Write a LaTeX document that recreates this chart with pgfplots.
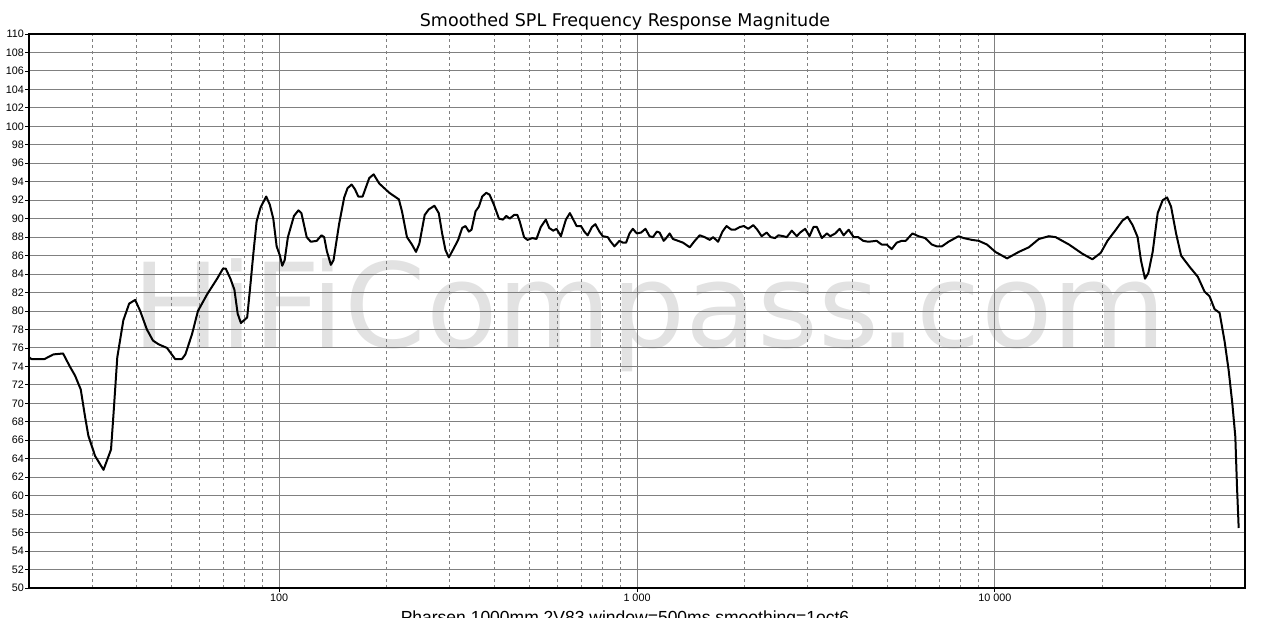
\documentclass[border=0pt]{standalone}
\usepackage{pgfplots}
\pgfplotsset{compat=1.18}
\usepackage{fontspec}
\setmainfont{Liberation Sans}
\newfontfamily\dejavu{DejaVu Sans}
\definecolor{gridgray}{RGB}{128,128,128}
\definecolor{wmgray}{RGB}{226,226,226}
\begin{document}
\begin{tikzpicture}
\begin{axis}[
  set layers,
  scale only axis, width=1216pt, height=554pt,
  xmode=log, xmin=20, xmax=50000, ymin=50, ymax=110,
  xtick={100,1000,10000}, xticklabels={100,1 000,10 000},
  minor xtick={20,30,40,50,60,70,80,90,200,300,400,500,600,700,800,900,2000,3000,4000,5000,6000,7000,8000,9000,20000,30000,40000},
  ytick={50,52,...,110},
  xmajorgrids, ymajorgrids, xminorgrids,
  major grid style={gridgray, line width=0.9pt},
  minor grid style={gridgray, line width=0.8pt, dash pattern=on 3pt off 3pt},
  axis line style={black, line width=1.1pt},
  tick style={black, line width=0.8pt},
  major tick length=4pt, minor tick length=0pt, tick align=outside,
  xtick pos=left, ytick pos=left,
  ticklabel style={font=\fontsize{10.8}{12}\selectfont},
  yticklabel style={inner sep=1pt},
  xticklabel style={inner sep=2pt},
  /pgf/number format/assume math mode=true,
  clip mode=individual,
]
\begin{pgfonlayer}{axis background}
\node[anchor=base, text=wmgray, font=\dejavu\fontsize{117}{120}\selectfont, inner sep=0pt] at (axis cs:1084,76) {HiFiCompass.com};
\end{pgfonlayer}
\addplot[black, line width=2pt, line join=round] table {
20.0 75.0
20.3 74.8
22.1 74.8
23.4 75.3
24.9 75.4
26.0 74.0
26.9 73.0
27.9 71.5
28.7 68.5
29.3 66.5
30.6 64.3
32.3 62.8
33.9 65.0
34.4 68.5
35.3 75.0
36.7 79.0
38.1 80.8
39.6 81.2
40.9 80.0
42.7 78.0
44.4 76.8
46.0 76.4
48.6 76.0
51.2 74.8
53.5 74.8
54.7 75.3
57.1 77.5
59.3 80.0
62.9 81.8
67.1 83.5
69.7 84.6
70.9 84.6
73.1 83.5
75.0 82.3
76.6 79.7
78.2 78.7
81.4 79.3
83.2 83.0
84.6 86.0
86.5 89.7
88.7 91.2
92.0 92.4
94.2 91.5
96.3 90.0
98.4 87.0
100.5 86.0
102.0 84.9
103.6 85.5
105.8 88.0
110.0 90.3
113.2 90.9
115.4 90.6
119.4 88.0
122.6 87.5
127.4 87.6
131.3 88.2
133.6 88.0
135.9 86.5
139.5 85.0
141.9 85.5
147.2 89.5
152.0 92.3
155.3 93.3
159.4 93.7
162.8 93.2
166.4 92.4
171.1 92.4
174.8 93.4
178.6 94.4
183.7 94.8
190.5 93.8
203.2 92.8
212.2 92.3
216.0 92.1
220.4 90.8
227.6 88.0
235.0 87.2
241.2 86.4
246.5 87.3
255.1 90.4
261.8 91.0
271.6 91.4
279.3 90.6
285.4 88.4
291.6 86.6
298.0 85.8
307.7 86.8
316.4 87.7
324.7 89.0
331.7 89.2
339.0 88.6
344.8 88.8
353.9 90.8
361.5 91.3
369.4 92.4
379.1 92.8
387.3 92.6
398.4 91.5
411.4 90.0
422.2 89.9
431.4 90.3
440.8 90.0
453.3 90.4
463.1 90.4
470.2 89.7
483.5 88.0
494.0 87.7
510.2 87.9
523.6 87.8
538.5 89.1
556.2 89.9
568.3 89.0
583.2 88.7
595.8 88.9
612.8 88.1
632.9 89.9
649.4 90.6
663.6 89.9
678.0 89.2
697.3 89.2
712.4 88.6
728.0 88.2
748.6 89.1
765.0 89.4
785.0 88.6
802.2 88.1
828.5 88.0
841.0 87.6
865.0 87.0
893.3 87.6
912.9 87.4
932.2 87.4
952.8 88.4
973.4 88.9
998.8 88.4
1027 88.5
1056 88.9
1084 88.1
1108 88.0
1136 88.6
1156 88.5
1187 87.6
1207 87.9
1234 88.4
1260 87.8
1302 87.6
1345 87.4
1404 86.9
1450 87.6
1497 88.2
1546 88.0
1597 87.7
1632 88.0
1685 87.5
1733 88.6
1779 89.2
1837 88.8
1877 88.8
1939 89.1
1990 89.2
2046 88.9
2113 89.3
2169 88.8
2230 88.1
2303 88.5
2363 88.0
2431 87.9
2484 88.2
2565 88.1
2621 88.0
2707 88.7
2796 88.1
2857 88.5
2951 88.9
3034 88.1
3113 89.1
3181 89.1
3285 87.9
3393 88.4
3467 88.1
3581 88.4
3683 88.9
3779 88.2
3903 88.8
4031 88.0
4150 88.0
4287 87.6
4428 87.5
4672 87.6
4826 87.2
4984 87.2
5148 86.7
5317 87.4
5492 87.6
5636 87.6
5884 88.4
6117 88.1
6386 87.9
6667 87.2
6885 87.0
7111 87.0
7422 87.5
7916 88.1
8176 87.9
8630 87.7
9010 87.6
9507 87.2
10032 86.4
10817 85.7
11666 86.4
12444 86.9
13274 87.8
14158 88.1
14781 88.0
16113 87.2
17564 86.2
18732 85.6
19766 86.3
20634 87.6
21777 88.8
22738 89.8
23484 90.2
24259 89.3
25054 88.0
25597 85.5
26271 83.5
26840 84.1
27604 86.4
28509 90.6
29444 92.0
30283 92.3
31074 91.3
32092 88.4
33144 86.0
34979 84.8
36916 83.7
38540 82.1
39802 81.6
41108 80.2
42461 79.8
43853 76.7
44999 73.6
46077 70.0
46977 66.4
47488 61.0
48006 56.5
};
\end{axis}
\node[anchor=base, inner sep=0pt, font=\dejavu\fontsize{17.5}{20}\selectfont] at ([xshift=-12pt,yshift=7pt]current axis.north) {Smoothed SPL Frequency Response Magnitude};
\node[anchor=base, inner sep=0pt, font=\fontsize{17.5}{20}\selectfont] at ([xshift=-12pt,yshift=-35pt]current axis.south) {Pharsen 1000mm 2V83 window=500ms smoothing=1oct6};
\pgfresetboundingbox
\path[use as bounding box] ([shift={(-29pt,-29pt)}]current axis.south west) rectangle ([shift={(31pt,34pt)}]current axis.north east);
\end{tikzpicture}
\end{document}
